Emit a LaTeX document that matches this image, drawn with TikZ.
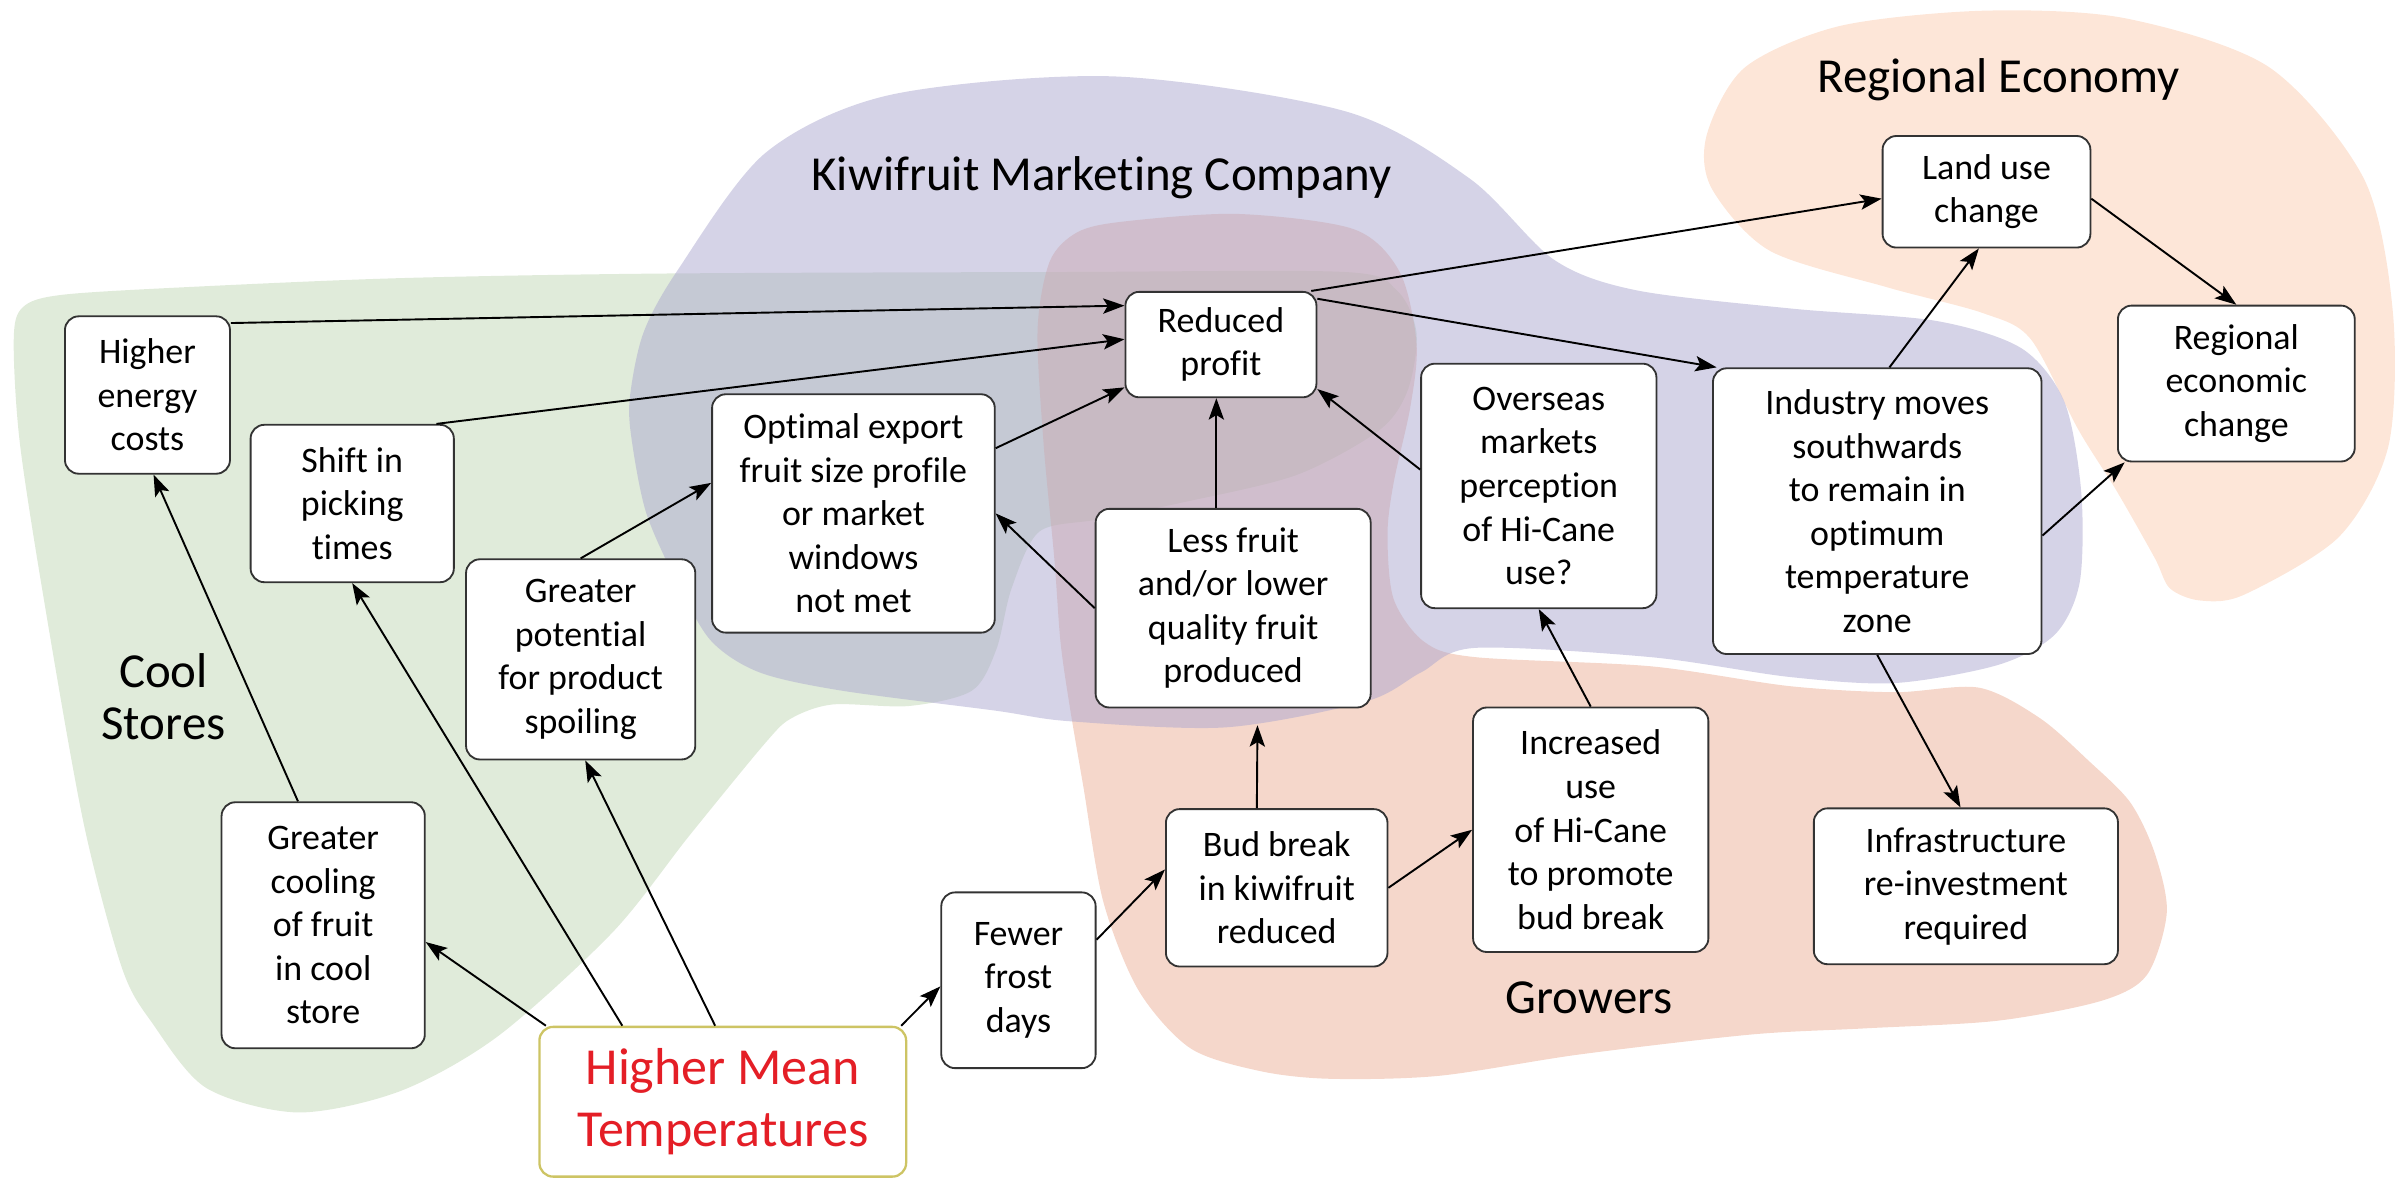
\documentclass[tikz,border=0pt]{standalone}
\usepackage{fontspec}
\setmainfont{Carlito}[Ligatures={CommonOff,ContextualOff}]
\usetikzlibrary{arrows.meta}

\definecolor{coolgreen}{RGB}{193,215,181}
\definecolor{kmcpurple}{RGB}{171,167,207}
\definecolor{growerred}{RGB}{235,175,151}
\definecolor{regionpeach}{RGB}{251,205,177}
\definecolor{hmtred}{RGB}{228,30,38}
\definecolor{hmtedge}{RGB}{205,196,100}

\tikzset{
  box/.style = {draw=black!80, line width=1.2pt, rounded corners=9pt, fill=white,
    align=center, inner sep=0pt, font=\fontsize{23.5}{28.5}\selectfont},
  link/.style = {-{Stealth[length=14pt, width=10pt, inset=3pt]}, line width=1.25pt},
  blob/.style = {fill opacity=0.5},
  grouplabel/.style = {font=\fontsize{32}{34}\selectfont, align=center}
}

\begin{document}
\begin{tikzpicture}[x=1pt, y=-1pt]
  \useasboundingbox (0,0) rectangle (1568,772);

  % Cool Stores
  \fill[coolgreen, blob] plot[smooth cycle, tension=0.5] coordinates {
    (9,222) (15,201) (40,193) (120,188) (262,182) (434,179) (697,178) (880,178) (914,190)
    (927,218) (921,256) (902,282) (848,311) (773,329) (718,340) (680,348) (662,385)
    (652,425) (636,452) (595,462) (545,461) (518,470) (501,486) (451,547) (401,610)
    (326,678) (262,714) (195,728) (135,712) (100,670) (80,634) (55,540) (30,400) (13,290)};

  % Growers
  \fill[growerred, blob] plot[smooth cycle, tension=0.5] coordinates {
    (687,171) (705,152) (735,145) (810,140) (886,150) (916,178) (927,225) (923,266)
    (912,316) (908,350) (912,392) (932,420) (965,430) (1080,436) (1171,449) (1240,453)
    (1295,450) (1335,470) (1367,498) (1394,525) (1410,558) (1418,597) (1405,638)
    (1375,655) (1307,668) (1220,673) (1146,677) (1034,690) (942,704) (871,706)
    (825,701) (779,686) (745,648) (722,590) (709,515) (700,462) (694,420) (690,366)
    (683,291) (679,216)};

  % Regional Economy
  \fill[regionpeach, blob] plot[smooth cycle, tension=0.5] coordinates {
    (1117,88) (1142,44) (1204,17) (1298,7) (1391,12) (1485,44) (1547,117) (1566,205)
    (1563,292) (1531,351) (1469,389) (1440,393) (1420,385) (1410,365) (1385,321)
    (1360,281) (1329,222) (1298,205) (1235,188) (1158,164) (1120,123)};

  % Kiwifruit Marketing Company
  \fill[kmcpurple, blob] plot[smooth cycle, tension=0.5] coordinates {
    (412,262) (421,218) (444,176) (501,100) (583,62) (729,50) (881,73) (962,117)
    (1017,170) (1071,190) (1173,202) (1267,210) (1323,228) (1351,263) (1362,322)
    (1361,381) (1345,415) (1308,435) (1240,447) (1171,443) (1080,430) (965,424)
    (930,440) (894,459) (802,476) (700,472) (651,465) (551,452) (497,440) (465,419)
    (442,379) (423,336) (414,292)};

  % Group labels
  \node[grouplabel] (kmclabel) at (721,116) {Kiwifruit Marketing Company};
  \node[grouplabel] (reglabel) at (1308,52) {Regional Economy};
  \node[grouplabel] (coollabel) at (107,456) {Cool\\Stores};
  \node[grouplabel] (growlabel) at (1040,653) {Growers};

  % Cool store effects
  \node[box, minimum width=108pt, minimum height=103pt] (henergy) at (96.5,258.5) {Higher\\energy\\costs};
  \node[box, minimum width=133pt, minimum height=103pt] (shift) at (230.5,329.5) {Shift in\\picking\\times};
  \node[box, minimum width=150pt, minimum height=131pt] (spoil) at (380,431.5) {Greater\\potential\\for product\\spoiling};
  \node[box, minimum width=133pt, minimum height=161pt] (cooling) at (211.5,605.5) {Greater\\cooling\\of fruit\\in cool\\store};

  % Marketing effects
  \node[box, minimum width=185pt, minimum height=156pt] (optimal) at (558.5,336) {Optimal export\\fruit size profile\\or market\\windows\\not met};
  \node[box, minimum width=125pt, minimum height=69pt] (profit) at (799,225.5) {Reduced\\profit};
  \node[box, minimum width=180pt, minimum height=130pt] (less) at (807,398) {Less fruit\\and/or lower\\quality fruit\\produced};
  \node[box, minimum width=154pt, minimum height=160pt] (overseas) at (1007,318) {Overseas\\markets\\perception\\of Hi-Cane\\use?};
  \node[box, minimum width=215pt, minimum height=187pt] (industry) at (1228.5,334.5) {Industry moves\\southwards\\to remain in\\optimum\\temperature\\zone};

  % Regional effects
  \node[box, minimum width=136pt, minimum height=73pt] (landuse) at (1300,125.5) {Land use\\change};
  \node[box, minimum width=155pt, minimum height=102pt] (regional) at (1463.5,251) {Regional\\economic\\change};

  % Grower effects
  \node[box, minimum width=101pt, minimum height=115pt] (frost) at (666.5,641.5) {Fewer\\frost\\days};
  \node[box, minimum width=145pt, minimum height=103pt] (budbreak) at (835.5,581) {Bud break\\in kiwifruit\\reduced};
  \node[box, minimum width=154pt, minimum height=160pt] (increased) at (1041,543) {Increased\\use\\of Hi-Cane\\to promote\\bud break};
  \node[box, minimum width=199pt, minimum height=102pt] (infra) at (1286.5,580) {Infrastructure\\re-investment\\required};

  % Driver
  \node[box, draw=hmtedge, line width=1.5pt, text=hmtred, font=\fontsize{34}{41}\selectfont,
    minimum width=240pt, minimum height=98pt] (hmt) at (473,721) {Higher Mean\\Temperatures};

  % Links into Reduced profit
  \draw[link] ([yshift=-5pt]henergy.north east) -- ([yshift=25.5pt]profit.west);
  \draw[link] ([xshift=-12pt]shift.north east) -- ([yshift=3.5pt]profit.west);
  \draw[link] ([yshift=42.7pt]optimal.east) -- ([yshift=-28pt]profit.west);
  \draw[link] ([xshift=-11pt]less.north) -- ([xshift=-3pt]profit.south);
  \draw[link] ([yshift=10.7pt]overseas.west) -- ([yshift=6pt]profit.south east);

  % Links into Optimal export
  \draw[link] (less.west) -- (optimal.east);
  \draw[link] (spoil.north) -- ([yshift=20pt]optimal.west);

  % Links out of Reduced profit and Industry
  \draw[link] ([yshift=30pt]profit.east) -- ([xshift=3pt]industry.north west);
  \draw[link] ([xshift=-4pt]profit.north east) -- ([yshift=-4.5pt]landuse.west);
  \draw[link] ([yshift=-4.5pt]landuse.east) -- (regional.north);
  \draw[link] ([xshift=8pt]industry.north) -- ([xshift=-5pt]landuse.south);
  \draw[link] ([yshift=-16pt]industry.east) -- ([xshift=5pt]regional.south west);
  \draw[link] (industry.south) -- ([xshift=-3.5pt]infra.north);

  % Grower links
  \draw[link] (increased.north) -- (overseas.south);
  \draw[link] (budbreak.east) -- (increased.west);
  \draw[link, shorten >=11pt] ([xshift=-13pt]budbreak.north) -- ([xshift=16pt]less.south);
  \draw[link] ([yshift=26.5pt]frost.east) -- ([yshift=12pt]budbreak.west);

  % Links from Higher Mean Temperatures
  \draw[link] ([xshift=-4pt]hmt.north east) -- ([yshift=-4pt]frost.west);
  \draw[link] ([xshift=5pt]hmt.north west) -- ([yshift=-11pt]cooling.east);
  \draw[link] ([xshift=55pt]hmt.north west) -- (shift.south);
  \draw[link] ([xshift=-5pt]hmt.north) -- ([xshift=3pt]spoil.south);
  \draw[link] ([xshift=-16.5pt]cooling.north) -- ([xshift=4pt]henergy.south);

\end{tikzpicture}
\end{document}
